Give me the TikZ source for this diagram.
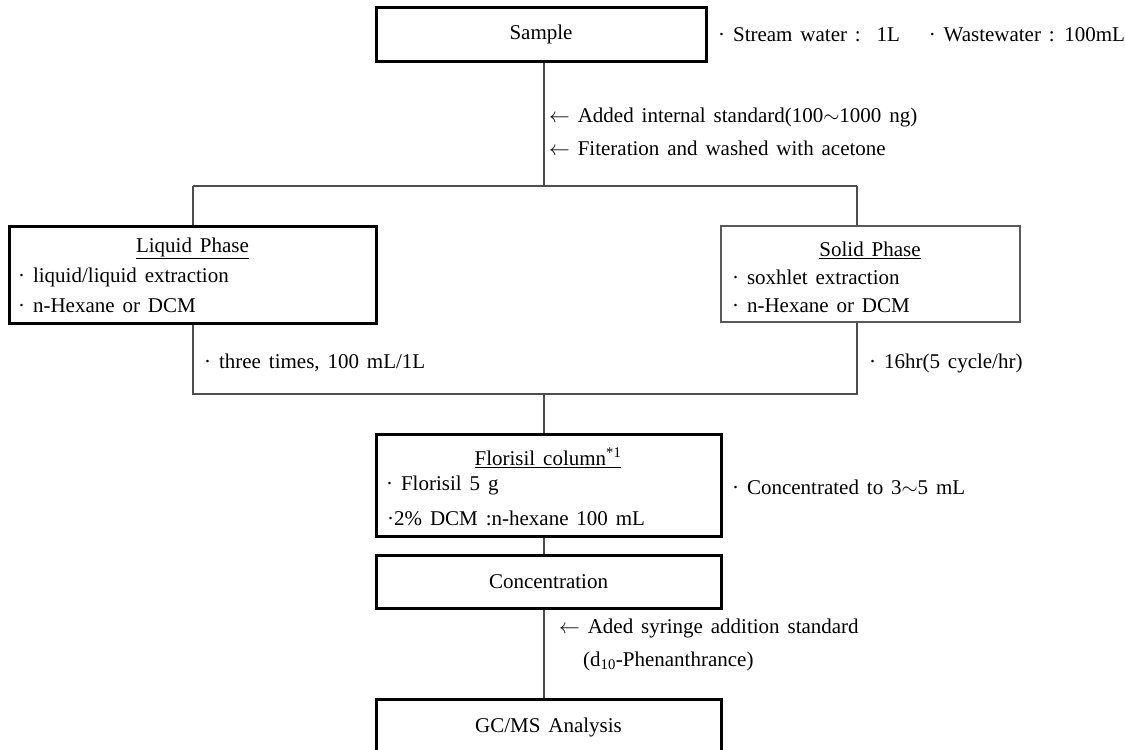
\documentclass[tikz,border=0pt]{standalone}
\usepackage{fontspec}
\setmainfont{Liberation Serif}[WordSpace=1.5]
\begin{document}
\begin{tikzpicture}[x=1pt,y=-1pt,
  thickbox/.style={draw=black, line width=3pt, inner sep=0pt, font=\fontsize{21}{25}\selectfont},
  thinbox/.style={draw=black!65, line width=1.4pt, inner sep=0pt},
  conn/.style={draw=black!70, line width=1.1pt},
  txt/.style={inner sep=0pt, font=\fontsize{21}{25}\selectfont, anchor=west},
  ttl/.style={inner sep=0pt, font=\fontsize{21}{25}\selectfont, anchor=center}]
\useasboundingbox (0,0) rectangle (1125,750);

% junction coordinates
\coordinate (jtop) at (544,186);
\coordinate (jl) at (193,186);
\coordinate (jr) at (857,186);
\coordinate (jbl) at (193,394);
\coordinate (jbr) at (857,394);
\coordinate (jbot) at (544,394);

% boxes
\node[thickbox, minimum width=330pt, minimum height=54pt] (sample) at (541,34) {Sample};
\node[thickbox, minimum width=367pt, minimum height=97pt] (liquid) at (192.5,274.5) {};
\node[thinbox, minimum width=299pt, minimum height=96pt] (solid) at (870.5,274) {};
\node[thickbox, minimum width=345pt, minimum height=102pt] (florisil) at (548.5,485) {};
\node[thickbox, minimum width=345pt, minimum height=53pt] (conc) at (548.5,581.5) {Concentration};
\node[thickbox, minimum width=345pt, minimum height=56pt] (gcms) at (548.5,727) {GC/MS Analysis};

% connectors
\draw[conn] (sample.south -| jtop) -- (jtop);
\draw[conn] (jl) -- (jr);
\draw[conn] (jl) -- (jl |- liquid.north);
\draw[conn] (jr) -- (jr |- solid.north);
\draw[conn] (jl |- liquid.south) -- (jbl) -- (jbr) -- (jr |- solid.south);
\draw[conn] (jbot) -- (jbot |- florisil.north);
\draw[conn] (florisil.south -| jbot) -- (conc.north -| jbot);
\draw[conn] (conc.south -| jbot) -- (gcms.north -| jbot);

% texts
\node[txt] (stream) at (718,35) {· Stream water :\ \ 1L\quad\ · Wastewater : 100mL};
\node[txt] (add1) at (549,117) {$\leftarrow$\ Added internal standard(100$\sim$1000 ng)};
\node[txt] (add2) at (549,148) {$\leftarrow$\ Fiteration and washed with acetone};

\node[ttl] (liqt) at (192.5,248) {\underline{Liquid Phase}};
\node[txt] (liq1) at (18,277) {· liquid/liquid extraction};
\node[txt] (liq2) at (18,306) {· n-Hexane or DCM};

\node[ttl] (solt) at (870,250) {\underline{Solid Phase}};
\node[txt] (sol1) at (732,277) {· soxhlet extraction};
\node[txt] (sol2) at (732,306) {· n-Hexane or DCM};

\node[txt] (three) at (204,363) {· three times, 100 mL/1L};
\node[txt] (hr) at (869,363) {· 16hr(5 cycle/hr)};

\node[ttl] (flot) at (548,458) {\underline{Florisil column\textsuperscript{*1}}};
\node[txt] (flo1) at (386,485) {· Florisil 5 g};
\node[txt] (flo2) at (387,518) {·2\% DCM :n-hexane 100 mL};
\node[txt] (concto) at (732,487) {· Concentrated to 3$\sim$5 mL};

\node[txt] (aded) at (559,628) {$\leftarrow$\ Aded syringe addition standard};
\node[txt] (d10) at (583,661) {(d\textsubscript{10}-Phenanthrance)};
\end{tikzpicture}
\end{document}
